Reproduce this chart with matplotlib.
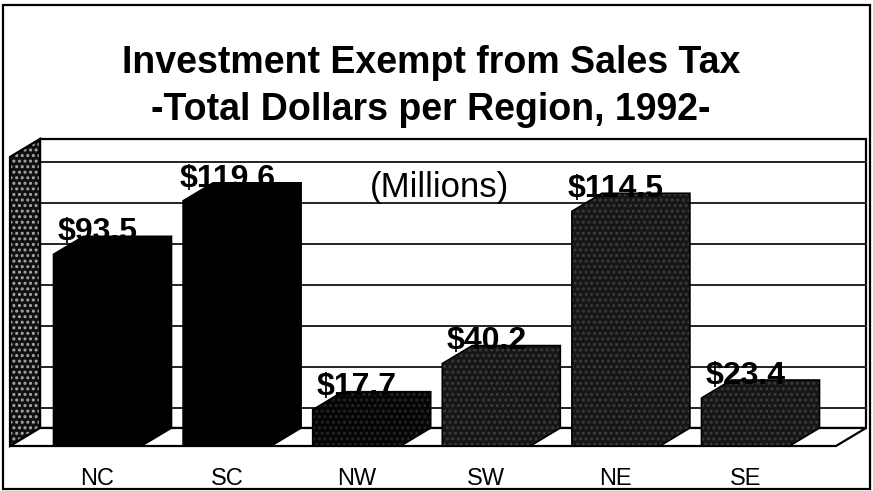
import numpy as np
import matplotlib.pyplot as plt
from matplotlib.patches import Polygon, Rectangle

# Sales-tax-exempt investment by region, 1992 (millions of dollars)
regions = ['NC', 'SC', 'NW', 'SW', 'NE', 'SE']
totals = [93.5, 119.6, 17.7, 40.2, 114.5, 23.4]

# per-bar look: fill, speckle colour (None = plain)
bar_fills = ['#000000', '#000000', '#050505', '#161616', '#161616', '#161616']
bar_speckle = [None, None, '#262626', '#3c3c3c', '#3c3c3c', '#3c3c3c']

grid_vals = np.arange(10, 140, 20)   # gridlines on the back wall
wall_top = 141

W, H = 873, 491
fig = plt.figure(figsize=(W / 100, H / 100), dpi=100)
ax = fig.add_axes([0, 0, 1, 1])
ax.set_axis_off()

# map category index / value onto the canvas
slot_px, x0_px = 129.6, 97.5
ppu, base_px = 2.05, 446
ax.set_xlim(-x0_px / slot_px, (W - x0_px) / slot_px)
ax.set_ylim(-(H - base_px) / ppu, base_px / ppu)

dx = 30 / slot_px        # depth offset, category units
dy = 18 / ppu            # depth offset, value units
hw = 44 / slot_px        # half width of a bar's front face
fl_left = (10 - x0_px) / slot_px
fl_right = (836 - x0_px) / slot_px

# back wall + gridlines
ax.add_patch(Polygon([(fl_left + dx, dy), (fl_left + dx, wall_top + dy),
                      (fl_right + dx, wall_top + dy), (fl_right + dx, dy)],
                     closed=True, fc='white', ec='black', lw=1.6, zorder=1))
for g in grid_vals:
    ax.plot([fl_left + dx, fl_right + dx], [g + dy, g + dy],
            color='#222222', lw=1.4, zorder=2)

# left side wall, stippled
plt.rcParams['hatch.linewidth'] = 1.4
wall = [(fl_left, 0), (fl_left, wall_top), (fl_left + dx, wall_top + dy), (fl_left + dx, dy)]
ax.add_patch(Polygon(wall, closed=True, fc='#111111', ec='#aaaaaa', hatch='...', lw=0, zorder=2))
ax.add_patch(Polygon(wall, closed=True, fill=False, ec='black', lw=1.6, zorder=2))

# floor
ax.add_patch(Polygon([(fl_left, 0), (fl_left + dx, dy), (fl_right + dx, dy), (fl_right, 0)],
                     closed=True, fc='white', ec='black', lw=1.6, zorder=3))

# 3-D bars with value labels
for i, (name, v) in enumerate(zip(regions, totals)):
    L, R = i - hw, i + hw
    shape = [(L, 0), (L, v), (L + dx, v + dy), (R + dx, v + dy), (R + dx, dy), (R, 0)]
    if bar_speckle[i]:
        ax.add_patch(Polygon(shape, closed=True, fc=bar_fills[i], ec=bar_speckle[i],
                             hatch='...', lw=0, zorder=4))
        ax.add_patch(Polygon(shape, closed=True, fill=False, ec='black', lw=1.2, zorder=4))
    else:
        ax.add_patch(Polygon(shape, closed=True, fc=bar_fills[i], ec='black', lw=1.2, zorder=4))
    ax.text(i, v + dy - 1.8, f'${v:.1f}', ha='center', va='baseline',
            fontsize=23, fontweight='bold', family='Liberation Sans', zorder=5)
    ax.text(i, -19, name, ha='center', va='baseline', fontsize=17,
            family='Liberation Sans', zorder=5)

# titles
fig.text(431 / W, 1 - 73 / H, 'Investment Exempt from Sales Tax', ha='center',
         va='baseline', fontsize=27, fontweight='bold', family='Liberation Sans')
fig.text(431 / W, 1 - 120 / H, '-Total Dollars per Region, 1992-', ha='center',
         va='baseline', fontsize=27, fontweight='bold', family='Liberation Sans')
fig.text(440 / W, 1 - 197 / H, '(Millions)', ha='center', va='baseline',
         fontsize=25, family='Liberation Sans', zorder=5)

# outer frame
fig.patches.append(Rectangle((3 / W, 2 / H), 867 / W, 484 / H, transform=fig.transFigure,
                             fill=False, ec='black', lw=1.6))

fig.savefig('out.png', dpi=100)
